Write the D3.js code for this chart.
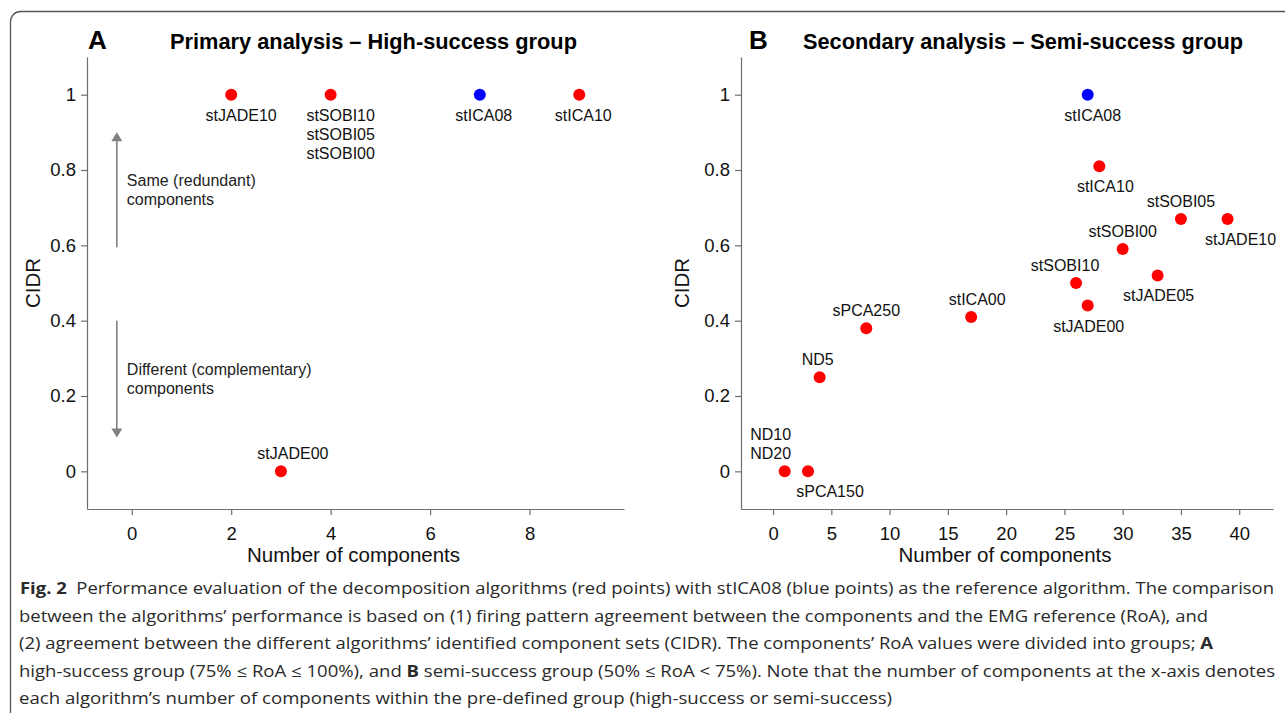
<!DOCTYPE html>
<html>
<head>
<meta charset="utf-8">
<script src="https://cdn.jsdelivr.net/npm/d3@7"></script>
<style>
  body { margin: 0; background: #fff; }
  svg text { font-family: "Liberation Sans", Arial, Helvetica, sans-serif; }
  svg .caption text { font-family: "Open Sans", sans-serif; }
</style>
</head>
<body>
<div id="figura"></div>
<script>
// panel A - high-success group
const namesA = [["stJADE10"], ["stSOBI10", "stSOBI05", "stSOBI00"], ["stICA08"], ["stICA10"], ["stJADE00"]];
const componentsA = [2, 4, 7, 9, 3];
const cidrA = [1, 1, 1, 1, 0];
const xTicksA = [0, 2, 4, 6, 8];

// panel B - semi-success group
const namesB = [["stICA08"], ["stICA10"], ["stSOBI05"], ["stJADE10"], ["stSOBI00"], ["stJADE05"], ["stSOBI10"],
  ["stJADE00"], ["stICA00"], ["sPCA250"], ["ND5"], ["ND10", "ND20"], ["sPCA150"]];
const componentsB = [27, 28, 35, 39, 30, 33, 26, 27, 17, 8, 4, 1, 3];
const cidrB = [1, 0.81, 0.67, 0.67, 0.59, 0.52, 0.50, 0.44, 0.41, 0.38, 0.25, 0, 0];
const xTicksB = [0, 5, 10, 15, 20, 25, 30, 35, 40];

const yTicks = [0, 0.2, 0.4, 0.6, 0.8, 1];
const referenceAlgorithm = "stICA08";

// where each label sits (side of the dot + small horizontal nudge in px)
const labelSideA = ["below", "below", "below", "below", "above"];
const labelNudgeA = [10, 10, 4, 4, 12];
const labelSideB = ["below", "below", "above", "below", "above", "below", "above", "below", "above", "above", "above", "above", "below"];
const labelNudgeB = [5, 6, 0, 13, 0, 1, -11, 1, 6, 0, -2, -14, 22];

// arrows of panel A, in CIDR units
const arrowX = -0.3;
const arrowFrom = [0.595, 0.4];
const arrowTo = [0.9, 0.09];
const noteY = [0.758, 0.255];
const noteLines = [["Same (redundant)", "components"], ["Different (complementary)", "components"]];

const captionLines = [
  [["Fig. 2", true], ["  Performance evaluation of the decomposition algorithms (red points) with stICA08 (blue points) as the reference algorithm. The comparison", false]],
  [["between the algorithms’ performance is based on (1) firing pattern agreement between the components and the EMG reference (RoA), and", false]],
  [["(2) agreement between the different algorithms’ identified component sets (CIDR). The components’ RoA values were divided into groups; ", false], ["A", true]],
  [["high-success group (75% ≤ RoA ≤ 100%), and ", false], ["B", true], [" semi-success group (50% ≤ RoA < 75%). Note that the number of components at the x-axis denotes", false]],
  [["each algorithm’s number of components within the pre-defined group (high-success or semi-success)", false]]
];
const captionStart = [20, 19, 19, 19, 19];
const captionEnd = [1274, 1208, 1213, 1275, 892];

class Painel {
  constructor(svg, config) {
    this.svg = svg;
    this.config = config;
    this.g = svg.append("g");
    this.xScale = null;
    this.yScale = null;
  }

  createScales() {
    this.xScale = d3.scaleLinear().domain(this.config.xDomain).range(this.config.xRange);
    this.yScale = d3.scaleLinear().domain([-0.1, 1.1]).range([509, 57]);
  }

  createAxis() {
    let xAxis = d3.axisBottom(this.xScale).tickValues(this.config.xTicks)
      .tickSize(6).tickSizeOuter(0).tickPadding(12).tickFormat(d => d);
    let yAxis = d3.axisLeft(this.yScale).tickValues(yTicks)
      .tickSize(6).tickSizeOuter(0).tickPadding(5).tickFormat(d => d);

    let gx = this.g.append("g")
      .attr("transform", `translate(0,${this.yScale.range()[0]})`)
      .call(xAxis);
    let gy = this.g.append("g")
      .attr("transform", `translate(${this.xScale.range()[0]},0)`)
      .call(yAxis);

    [gx, gy].forEach(a => {
      a.selectAll("path, line").attr("stroke", "#6e6e6e").attr("stroke-width", 1.2);
      a.selectAll("text").attr("fill", "#111").style("font-size", "18.5px")
        .style("font-family", "'Liberation Sans', Arial, sans-serif");
    });
  }

  renderLabels() {
    let c = this.config;
    let xr = this.xScale.range();
    let yr = this.yScale.range();

    this.g.append("text")
      .attr("x", (xr[0] + xr[1]) / 2 - 2)
      .attr("y", 562)
      .attr("text-anchor", "middle")
      .style("font-size", "20.5px")
      .attr("fill", "#111")
      .text("Number of components");

    this.g.append("text")
      .attr("transform", `translate(${c.yLabelX},${(yr[0] + yr[1]) / 2}) rotate(-90)`)
      .attr("text-anchor", "middle")
      .style("font-size", "20.5px")
      .attr("fill", "#111")
      .text("CIDR");

    this.g.append("text")
      .attr("x", c.letterX)
      .attr("y", 49)
      .style("font-size", "26px")
      .style("font-weight", "bold")
      .text(c.letter);

    this.g.append("text")
      .attr("x", c.titleX)
      .attr("y", 49)
      .attr("textLength", c.titleWidth)
      .attr("lengthAdjust", "spacingAndGlyphs")
      .style("font-size", "21.5px")
      .style("font-weight", "bold")
      .text(c.title);
  }

  renderPoints() {
    let c = this.config;
    let pts = c.x.map((x, i) => ({ x: x, y: c.y[i], names: c.names[i], side: c.side[i], nudge: c.nudge[i] }));

    this.g.selectAll("circle.ponto")
      .data(pts)
      .enter()
      .append("circle")
      .attr("class", "ponto")
      .attr("cx", d => this.xScale(d.x))
      .attr("cy", d => this.yScale(d.y))
      .attr("r", 6)
      .attr("fill", d => d.names.includes(referenceAlgorithm) ? "#0000ff" : "#ff0000");

    pts.forEach(d => {
      let n = d.names.length;
      d.names.forEach((name, k) => {
        let dy = d.side === "below" ? 26 + k * 19 : -12 - (n - 1 - k) * 19;
        this.g.append("text")
          .attr("x", this.xScale(d.x) + d.nudge)
          .attr("y", this.yScale(d.y) + dy)
          .attr("text-anchor", "middle")
          .style("font-size", "16px")
          .attr("fill", "#111")
          .text(name);
      });
    });
  }

  renderArrows() {
    let x = this.xScale(arrowX);
    arrowFrom.forEach((from, i) => {
      let y0 = this.yScale(from);
      let tip = this.yScale(arrowTo[i]);
      let dir = tip < y0 ? 1 : -1;
      this.g.append("line")
        .attr("x1", x).attr("x2", x)
        .attr("y1", y0).attr("y2", tip + dir * 6)
        .attr("stroke", "#808080")
        .attr("stroke-width", 1.6);
      let p = d3.path();
      p.moveTo(x, tip);
      p.lineTo(x - 5.5, tip + dir * 9);
      p.lineTo(x + 5.5, tip + dir * 9);
      p.closePath();
      this.g.append("path").attr("d", p.toString()).attr("fill", "#808080");

      noteLines[i].forEach((t, k) => {
        this.g.append("text")
          .attr("x", x + 10)
          .attr("y", this.yScale(noteY[i]) + k * 19)
          .style("font-size", "16px")
          .attr("fill", "#222")
          .text(t);
      });
    });
  }
}

function main() {
  let svg = d3.select("#figura")
    .append("svg")
    .attr("width", 1285)
    .attr("height", 713);

  svg.append("rect")
    .attr("x", 10.5).attr("y", 11.5)
    .attr("width", 1400).attr("height", 800)
    .attr("rx", 10)
    .attr("fill", "none")
    .attr("stroke", "#555")
    .attr("stroke-width", 1.3);

  let a = new Painel(svg, {
    xDomain: [-0.9, 9.9], xRange: [87, 624], xTicks: xTicksA,
    x: componentsA, y: cidrA, names: namesA, side: labelSideA, nudge: labelNudgeA,
    letter: "A", letterX: 88, title: "Primary analysis – High-success group", titleX: 170, titleWidth: 407,
    yLabelX: 40
  });
  a.createScales();
  a.createAxis();
  a.renderArrows();
  a.renderPoints();
  a.renderLabels();

  let b = new Painel(svg, {
    xDomain: [-2.75, 42.9], xRange: [741, 1273], xTicks: xTicksB,
    x: componentsB, y: cidrB, names: namesB, side: labelSideB, nudge: labelNudgeB,
    letter: "B", letterX: 749, title: "Secondary analysis – Semi-success group", titleX: 803, titleWidth: 440,
    yLabelX: 689
  });
  b.createScales();
  b.createAxis();
  b.renderPoints();
  b.renderLabels();

  // caption
  let cap = svg.append("g").attr("class", "caption");
  captionLines.forEach((line, i) => {
    let t = cap.append("text")
      .attr("x", captionStart[i])
      .attr("y", 594 + i * 27.5)
      .attr("textLength", captionEnd[i] - captionStart[i])
      .attr("lengthAdjust", "spacingAndGlyphs")
      .style("font-size", "16px")
      .attr("fill", "#2a2a2a")
      .attr("xml:space", "preserve");
    line.forEach(seg => {
      t.append("tspan")
        .style("font-weight", seg[1] ? "bold" : "normal")
        .text(seg[0]);
    });
  });
}

main();
</script>
</body>
</html>
